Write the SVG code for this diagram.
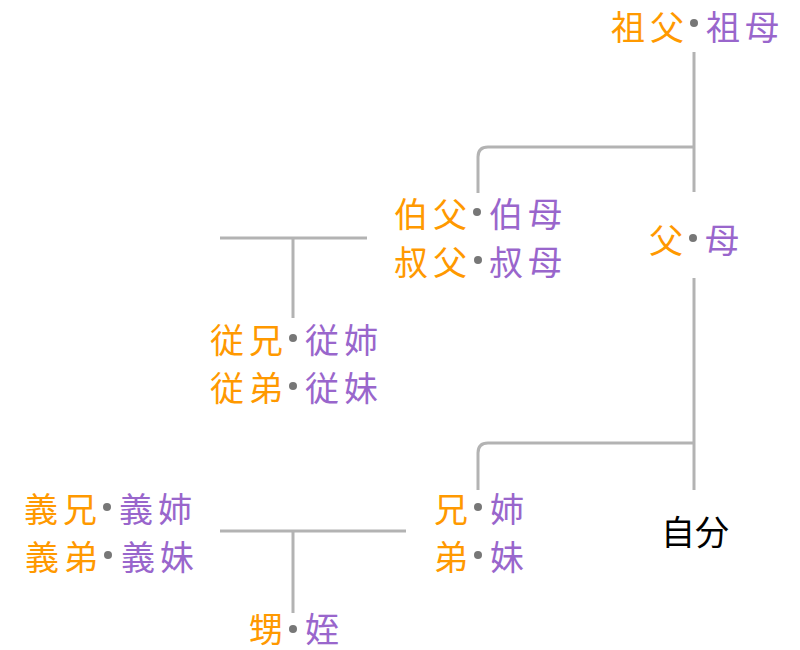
<svg xmlns="http://www.w3.org/2000/svg" width="800" height="650" viewBox="0 0 800 650">
<style>
text{font-family:"Noto Sans CJK JP","Noto Sans CJK SC",sans-serif;font-size:34px;letter-spacing:5px;dominant-baseline:central}
.m{fill:#ff9900;text-anchor:end}
.f{fill:#9966cc;text-anchor:start}
.dot{fill:#777}
.ln{fill:none;stroke:#b3b3b3;stroke-width:3}
</style>
<rect width="800" height="650" fill="#fff"/>
<g id="connectors">
<path class="ln" d="M694 52V192"/>
<path class="ln" d="M694 147H488Q478 147 478 157V193"/>
<path class="ln" d="M694 278V490"/>
<path class="ln" d="M694 443H488Q478 443 478 453V490"/>
<path class="ln" d="M220 238H367M293 238V318"/>
<path class="ln" d="M220 531H406M293 531V613"/>
</g>
<g id="grandparents"><text class="m" x="689" y="25">祖父</text><circle class="dot" cx="694" cy="23" r="4"/><text class="f" x="706" y="25">祖母</text></g>
<g id="uncles"><text class="m" x="472" y="212">伯父</text><circle class="dot" cx="477" cy="212" r="4"/><text class="f" x="489" y="212">伯母</text>
<text class="m" x="472" y="260">叔父</text><circle class="dot" cx="478" cy="260" r="4"/><text class="f" x="489" y="260">叔母</text></g>
<g id="parents"><text class="m" x="688" y="238">父</text><circle class="dot" cx="693" cy="238" r="4"/><text class="f" x="705" y="238">母</text></g>
<g id="cousins"><text class="m" x="288" y="338">従兄</text><circle class="dot" cx="293" cy="338" r="4"/><text class="f" x="305" y="338">従姉</text>
<text class="m" x="288" y="386">従弟</text><circle class="dot" cx="293" cy="386" r="4"/><text class="f" x="305" y="386">従妹</text></g>
<g id="inlaws"><text class="m" x="102" y="507">義兄</text><circle class="dot" cx="107" cy="507" r="4"/><text class="f" x="119" y="507">義姉</text>
<text class="m" x="103" y="555">義弟</text><circle class="dot" cx="108" cy="555" r="4"/><text class="f" x="121" y="555">義妹</text></g>
<g id="siblings"><text class="m" x="473" y="507">兄</text><circle class="dot" cx="478" cy="507" r="4"/><text class="f" x="490" y="507">姉</text>
<text class="m" x="473" y="555">弟</text><circle class="dot" cx="478" cy="555" r="4"/><text class="f" x="490" y="555">妹</text></g>
<g id="self"><text x="695" y="530" style="text-anchor:middle;fill:#000;letter-spacing:0">自分</text></g>
<g id="nephews"><text class="m" x="288" y="627">甥</text><circle class="dot" cx="293" cy="629" r="4"/><text class="f" x="305" y="627">姪</text></g>
</svg>
